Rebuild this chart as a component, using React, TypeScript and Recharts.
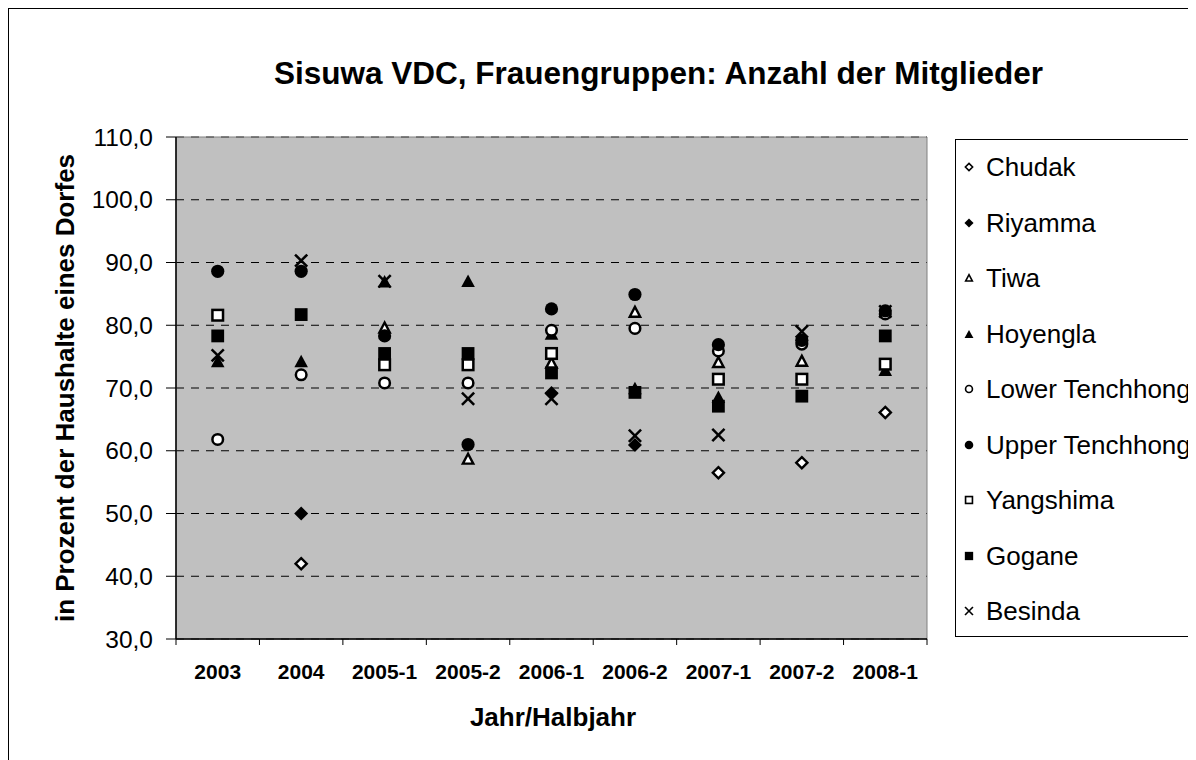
import React from 'react';
import {
  ComposedChart,
  Scatter,
  XAxis,
  YAxis,
  CartesianGrid,
  ReferenceArea,
} from 'recharts';

const CATEGORIES = ['2003', '2004', '2005-1', '2005-2', '2006-1', '2006-2', '2007-1', '2007-2', '2008-1'];

const CHUDAK = [null, 42.0, null, null, null, null, 56.5, 58.1, 66.1];
const RIYAMMA = [null, 50.0, null, null, 69.2, 60.9, null, null, null];
const TIWA = [null, null, 79.6, 58.7, 74.0, 82.1, 74.1, 74.3, null];
const HOYENGLA = [74.3, 74.3, 87.0, 87.1, 78.7, 70.0, 68.6, null, 72.9];
const LOWER_TENCHHONG = [61.8, 72.1, 70.8, 70.8, 79.2, 79.5, 75.9, 77.0, 81.8];
const UPPER_TENCHHONG = [88.6, 88.6, 78.3, 61.0, 82.6, 84.9, 76.9, 77.6, 82.3];
const YANGSHIMA = [81.6, null, 73.7, 73.7, 75.5, null, 71.4, 71.4, 73.8];
const GOGANE = [78.3, 81.7, 75.5, 75.5, 72.4, 69.3, 67.1, 68.7, 78.3];
const BESINDA = [75.2, 90.3, 87.0, 68.3, 68.3, 62.4, 62.5, 79.0, 82.2];

const Y_TICKS = [30, 40, 50, 60, 70, 80, 90, 100, 110];

const SERIES = [
  { name: 'Chudak', values: CHUDAK, kind: 'diamondOpen' },
  { name: 'Riyamma', values: RIYAMMA, kind: 'diamondFilled' },
  { name: 'Tiwa', values: TIWA, kind: 'triOpen' },
  { name: 'Hoyengla', values: HOYENGLA, kind: 'triFilled' },
  { name: 'Lower Tenchhong', values: LOWER_TENCHHONG, kind: 'circleOpen' },
  { name: 'Upper Tenchhong', values: UPPER_TENCHHONG, kind: 'circleFilled' },
  { name: 'Yangshima', values: YANGSHIMA, kind: 'squareOpen' },
  { name: 'Gogane', values: GOGANE, kind: 'squareFilled' },
  { name: 'Besinda', values: BESINDA, kind: 'x' },
];

const data = CATEGORIES.map((cat, i) => {
  const row: Record<string, any> = { cat };
  SERIES.forEach((s) => {
    row[s.name] = s.values[i];
  });
  return row;
});

const FONT = '"Liberation Sans", Arial, Helvetica, sans-serif';

function Marker({ kind, cx, cy, k = 1 }: { kind: string; cx: any; cy: any; k?: number }) {
  if (cx == null || cy == null || !Number.isFinite(cx) || !Number.isFinite(cy)) return <g />;
  switch (kind) {
    case 'diamondOpen': {
      const r = 5.6 * k;
      return (
        <polygon
          points={`${cx},${cy - r} ${cx + r},${cy} ${cx},${cy + r} ${cx - r},${cy}`}
          fill="#fff"
          stroke="#000"
          strokeWidth={2.4 * k}
        />
      );
    }
    case 'diamondFilled': {
      const r = 7 * k;
      return <polygon points={`${cx},${cy - r} ${cx + r},${cy} ${cx},${cy + r} ${cx - r},${cy}`} fill="#000" />;
    }
    case 'triOpen': {
      const w = 5.2 * k;
      const h = 9.4 * k;
      return (
        <polygon
          points={`${cx},${cy - h / 2 - 0.5 * k} ${cx + w},${cy + h / 2} ${cx - w},${cy + h / 2}`}
          fill="#fff"
          stroke="#000"
          strokeWidth={2.4 * k}
          strokeLinejoin="miter"
        />
      );
    }
    case 'triFilled': {
      const w = 6.8 * k;
      const h = 12.5 * k;
      return <polygon points={`${cx},${cy - h / 2} ${cx + w},${cy + h / 2} ${cx - w},${cy + h / 2}`} fill="#000" />;
    }
    case 'circleOpen':
      return <circle cx={cx} cy={cy} r={5.3 * k} fill="#fff" stroke="#000" strokeWidth={2.5 * k} />;
    case 'circleFilled':
      return <circle cx={cx} cy={cy} r={6.6 * k} fill="#000" />;
    case 'squareOpen': {
      const s = 5.3 * k;
      return <rect x={cx - s} y={cy - s} width={2 * s} height={2 * s} fill="#fff" stroke="#000" strokeWidth={2.5 * k} />;
    }
    case 'squareFilled': {
      const s = 6.4 * k;
      return <rect x={cx - s} y={cy - s} width={2 * s} height={2 * s} fill="#000" />;
    }
    case 'x': {
      const s = 6.1 * k;
      return (
        <g stroke="#000" strokeWidth={2.5 * k}>
          <line x1={cx - s} y1={cy - s} x2={cx + s} y2={cy + s} />
          <line x1={cx - s} y1={cy + s} x2={cx + s} y2={cy - s} />
        </g>
      );
    }
    default:
      return <g />;
  }
}

function XTick(props: any) {
  const { x, y, payload, index } = props;
  const off = payload && Number.isFinite(payload.offset) ? payload.offset : 0;
  const axisY = y - 6;
  return (
    <g>
      <line x1={x - off} y1={axisY} x2={x - off} y2={axisY + 6} stroke="#000" strokeWidth={1} />
      {index === CATEGORIES.length - 1 ? (
        <line x1={x + off} y1={axisY} x2={x + off} y2={axisY + 6} stroke="#000" strokeWidth={1} />
      ) : null}
      <text
        x={x}
        y={y + 26}
        textAnchor="middle"
        dominantBaseline="central"
        fontFamily={FONT}
        fontSize={21}
        fontWeight="bold"
        fill="#000"
      >
        {payload.value}
      </text>
    </g>
  );
}

const fmt = (v: number) => v.toFixed(1).replace('.', ',');

export default function App() {
  return (
    <div style={{ position: 'relative', width: 1188, height: 752, overflow: 'hidden', fontFamily: FONT, background: '#fff' }}>
      <div
        style={{
          position: 'absolute',
          left: 0,
          top: 0,
          width: 1400,
          height: 1000,
          border: '1px solid #000',
          boxSizing: 'border-box',
        }}
      />
      <div
        style={{
          position: 'absolute',
          left: 150.5,
          top: 49.5,
          width: 1000,
          textAlign: 'center',
          fontSize: 31.5,
          lineHeight: '31.5px',
          fontWeight: 'bold',
          whiteSpace: 'nowrap',
        }}
      >
        Sisuwa VDC, Frauengruppen: Anzahl der Mitglieder
      </div>
      <div
        style={{
          position: 'absolute',
          left: 57,
          top: 379.5,
          transform: 'translate(-50%, -50%) rotate(-90deg)',
          fontSize: 26,
          lineHeight: '26px',
          fontWeight: 'bold',
          whiteSpace: 'nowrap',
        }}
      >
        in Prozent der Haushalte eines Dorfes
      </div>
      <div
        style={{
          position: 'absolute',
          left: 245,
          top: 696.3,
          width: 600,
          textAlign: 'center',
          fontSize: 26,
          lineHeight: '26px',
          fontWeight: 'bold',
          whiteSpace: 'nowrap',
        }}
      >
        Jahr/Halbjahr
      </div>
      <div style={{ position: 'absolute', left: 0, top: 0 }}>
        <ComposedChart width={1188} height={752} data={data} margin={{ top: 129, right: 269, bottom: 61, left: 0 }}>
          <CartesianGrid vertical={false} fill="#C0C0C0" stroke="#000" strokeDasharray="8 7" />
          <ReferenceArea y1={30} y2={110} fill="none" stroke="#808080" strokeWidth={1} ifOverflow="visible" />
          <XAxis
            dataKey="cat"
            type="category"
            scale="band"
            interval={0}
            tickLine={false}
            tickSize={6}
            tickMargin={0}
            height={60}
            axisLine={{ stroke: '#000', strokeWidth: 1.5 }}
            tick={<XTick />}
          />
          <YAxis
            type="number"
            domain={[30, 110]}
            ticks={Y_TICKS}
            interval={0}
            width={168}
            tickFormatter={fmt}
            tickSize={10}
            tickMargin={13}
            tickLine={{ stroke: '#000' }}
            axisLine={{ stroke: '#000', strokeWidth: 1.5 }}
            tick={{ fill: '#000', fontSize: 24.5, fontFamily: FONT }}
          />
          {SERIES.map((s) => (
            <Scatter
              key={s.name}
              name={s.name}
              dataKey={s.name}
              isAnimationActive={false}
              legendType="none"
              shape={(p: any) => <Marker kind={s.kind} cx={p.cx} cy={p.cy} />}
            />
          ))}
        </ComposedChart>
      </div>
      <div
        style={{
          position: 'absolute',
          left: 947,
          top: 131,
          width: 400,
          height: 498,
          border: '1px solid #000',
          boxSizing: 'border-box',
          background: '#fff',
        }}
      >
        {SERIES.map((s, i) => (
          <div
            key={s.name}
            style={{ position: 'absolute', left: 0, top: 27 + i * 55.5 - 15, height: 30, display: 'flex', alignItems: 'center' }}
          >
            <svg width={26} height={30} style={{ display: 'block' }}>
              <Marker kind={s.kind} cx={13} cy={15} k={0.65} />
            </svg>
            <span style={{ marginLeft: 4, fontSize: 26, lineHeight: '30px', whiteSpace: 'nowrap', color: '#000' }}>{s.name}</span>
          </div>
        ))}
      </div>
    </div>
  );
}
